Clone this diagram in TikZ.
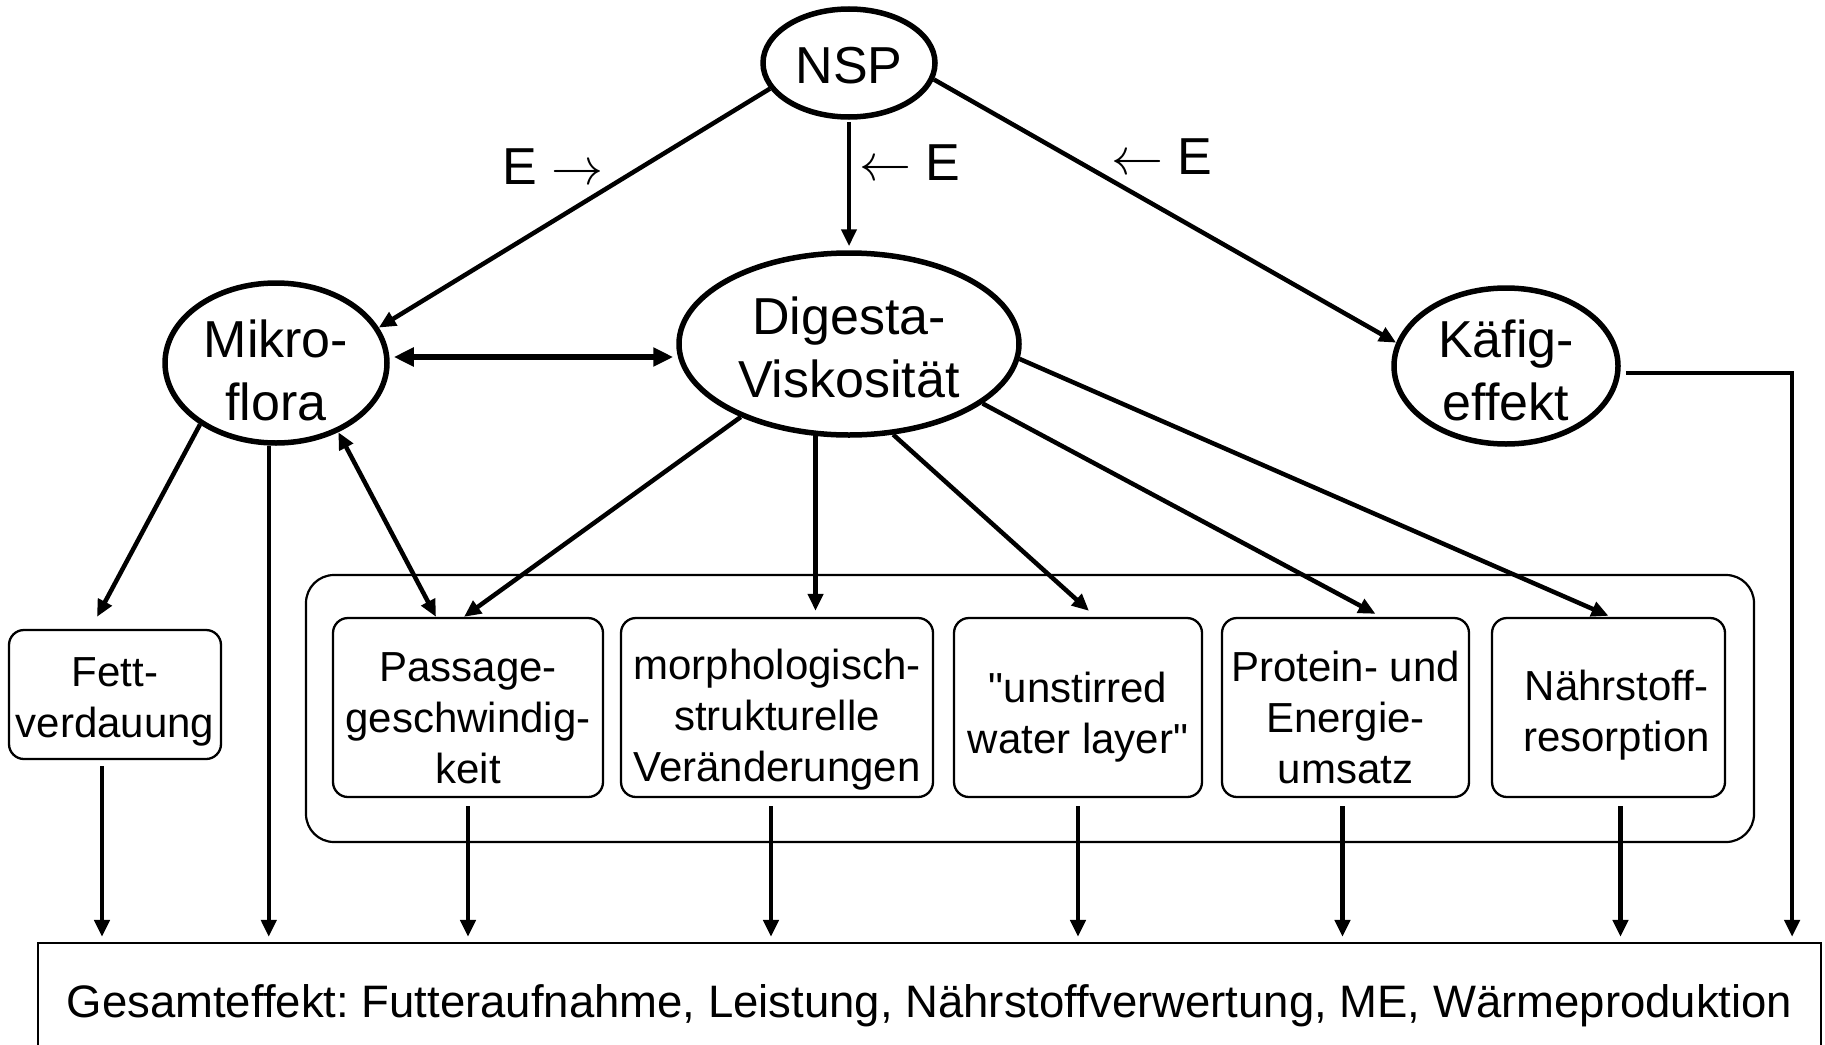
\RequirePackage{fix-cm}
\documentclass[tikz,border=0pt]{standalone}
\usepackage{fontspec}
\setmainfont{Liberation Sans}[Ligatures=TeXOff]
\frenchspacing
\usetikzlibrary{shapes.geometric,arrows.meta,calc}
\begin{document}
\begin{tikzpicture}[x=1pt,y=-1pt,
  ell/.style={ellipse, draw, line width=5.5pt, inner sep=0pt},
  elltext/.style={inner sep=0pt, align=center, font=\fontsize{52}{63}\selectfont},
  boxnode/.style={draw, rounded corners=15pt, line width=2.3pt, inner sep=0pt},
  boxtext/.style={inner sep=0pt, align=center, font=\fontsize{42}{51}\selectfont},
  grpbox/.style={draw, rounded corners=28pt, line width=2.2pt, inner sep=0pt},
  lab/.style={inner sep=0pt, font=\fontsize{52}{63}\selectfont},
  arr/.style={line width=4.5pt, -{Triangle[length=17pt,width=15pt]}},
  dbl/.style={line width=5.5pt, {Triangle[length=20pt,width=18pt]}-{Triangle[length=20pt,width=18pt]}},
  arr2/.style={line width=4.5pt, {Triangle[length=17pt,width=15pt]}-{Triangle[length=17pt,width=15pt]}},
]
\useasboundingbox (0,0) rectangle (1825,1044);

% ellipses
\node[ell, minimum width=172pt, minimum height=108pt] (nsp) at (849,63) {};
\node[ell, minimum width=222pt, minimum height=160pt] (mikro) at (276,363) {};
\node[ell, minimum width=340pt, minimum height=182pt] (dig) at (849,344) {};
\node[ell, minimum width=224pt, minimum height=156pt] (kae) at (1506,366) {};

\node[elltext] (tnsp) at ([yshift=-3pt]nsp.center) {NSP};
\node[elltext] (tmikro) at ([yshift=-7pt]mikro.center) {Mikro-\\flora};
\node[elltext] (tdig) at ([yshift=-3pt]dig.center) {Digesta-\\Viskosität};
\node[elltext] (tkae) at ([yshift=-4pt]kae.center) {Käfig-\\effekt};

% labels
\node[lab] (e1) at (553,167) {E $\rightarrow$};
\node[lab] (e2) at (910,163) {$\leftarrow$ E};
\node[lab] (e3) at (1162,157) {$\leftarrow$ E};

% group container
\node[grpbox, minimum width=1448pt, minimum height=267pt] (grp) at (1030,708.5) {};

% boxes
\node[boxnode, minimum width=212pt, minimum height=129pt] (fett) at (115,694.5) {};
\node[boxnode, minimum width=270pt, minimum height=179pt] (pas) at (468,707.5) {};
\node[boxnode, minimum width=312pt, minimum height=179pt] (morph) at (777,707.5) {};
\node[boxnode, minimum width=248pt, minimum height=179pt] (uns) at (1078,707.5) {};
\node[boxnode, minimum width=247pt, minimum height=179pt] (pro) at (1345.5,707.5) {};
\node[boxnode, minimum width=233pt, minimum height=179pt] (nae) at (1608.5,707.5) {};

% box texts
\node[boxtext] (tfett) at ([yshift=-7pt]fett.center) {Fett-\\verdauung};
\node[boxtext] (tpas) at ([yshift=-11pt]pas.center) {Passage-\\geschwindig-\\keit};
\node[boxtext] (tmorph) at ([yshift=-12pt]morph.center) {morphologisch-\\strukturelle\\Veränderungen};
\node[boxtext] (tuns) at ([yshift=-10pt]uns.center) {"unstirred\\water layer"};
\node[boxtext] (tpro) at ([yshift=-10pt]pro.center) {Protein- und\\Energie-\\umsatz};
\node[boxtext] (tnae) at ([shift={(8pt,-8pt)}]nae.center) {Nährstoff-\\resorption};

% bottom box
\node[draw, line width=2.2pt, inner sep=0pt, minimum width=1783pt, minimum height=126pt,
      font=\fontsize{45.5}{54}\selectfont] (ges) at (929.5,1006)
      {Gesamteffekt: Futteraufnahme, Leistung, Nährstoffverwertung, ME, Wärmeproduktion};

% connectors from NSP
\draw[arr] (nsp.198) -- (mikro.19);
\draw[arr, shorten <=2pt, shorten >=4pt] (nsp.south) -- (dig.north);
\draw[arr] (nsp.-11) -- (kae.168);

% Mikro <-> Digesta
\coordinate (m1) at ([shift={(4pt,6pt)}]mikro.east);
\draw[dbl, shorten >=3pt] (m1) -- (m1 -| dig.west);

% from Mikroflora
\draw[arr] (mikro.219) -- ([shift={(-18pt,12pt)}]fett.north);
\draw[arr, shorten >=5pt] (mikro.265) -- (mikro.265 |- ges.north);
\draw[arr2] (mikro.-48) -- ([xshift=-32pt]pas.north);

% from Digesta
\draw[arr] (dig.214) -- ([xshift=-4pt]pas.north);
\draw[arr, shorten >=6pt] (dig.250) -- (dig.250 |- morph.north);
\draw[arr] (dig.-64) -- ([shift={(11pt,6pt)}]uns.north);
\draw[arr] (dig.-24) -- ([shift={(30pt,3pt)}]pro.north);
\draw[arr] (dig.-5) -- ([yshift=1pt]nae.north);

% Kaefig to bottom
\draw[arr] ([shift={(5pt,-7pt)}]kae.east) -| ([shift={(-30pt,5pt)}]ges.north east);

% bottom arrows
\coordinate (b1) at ([shift={(-13pt,-6pt)}]fett.south);
\coordinate (b2) at ([yshift=-8pt]pas.south);
\coordinate (b3) at ([shift={(-6pt,-8pt)}]morph.south);
\coordinate (b4) at ([yshift=-8pt]uns.south);
\coordinate (b5) at ([shift={(-3pt,-8pt)}]pro.south);
\coordinate (b6) at ([shift={(12pt,-8pt)}]nae.south);
\foreach \b in {b1,b2,b3,b4,b5,b6}
  \draw[arr, shorten >=5pt] (\b) -- (\b |- ges.north);
\end{tikzpicture}
\end{document}
